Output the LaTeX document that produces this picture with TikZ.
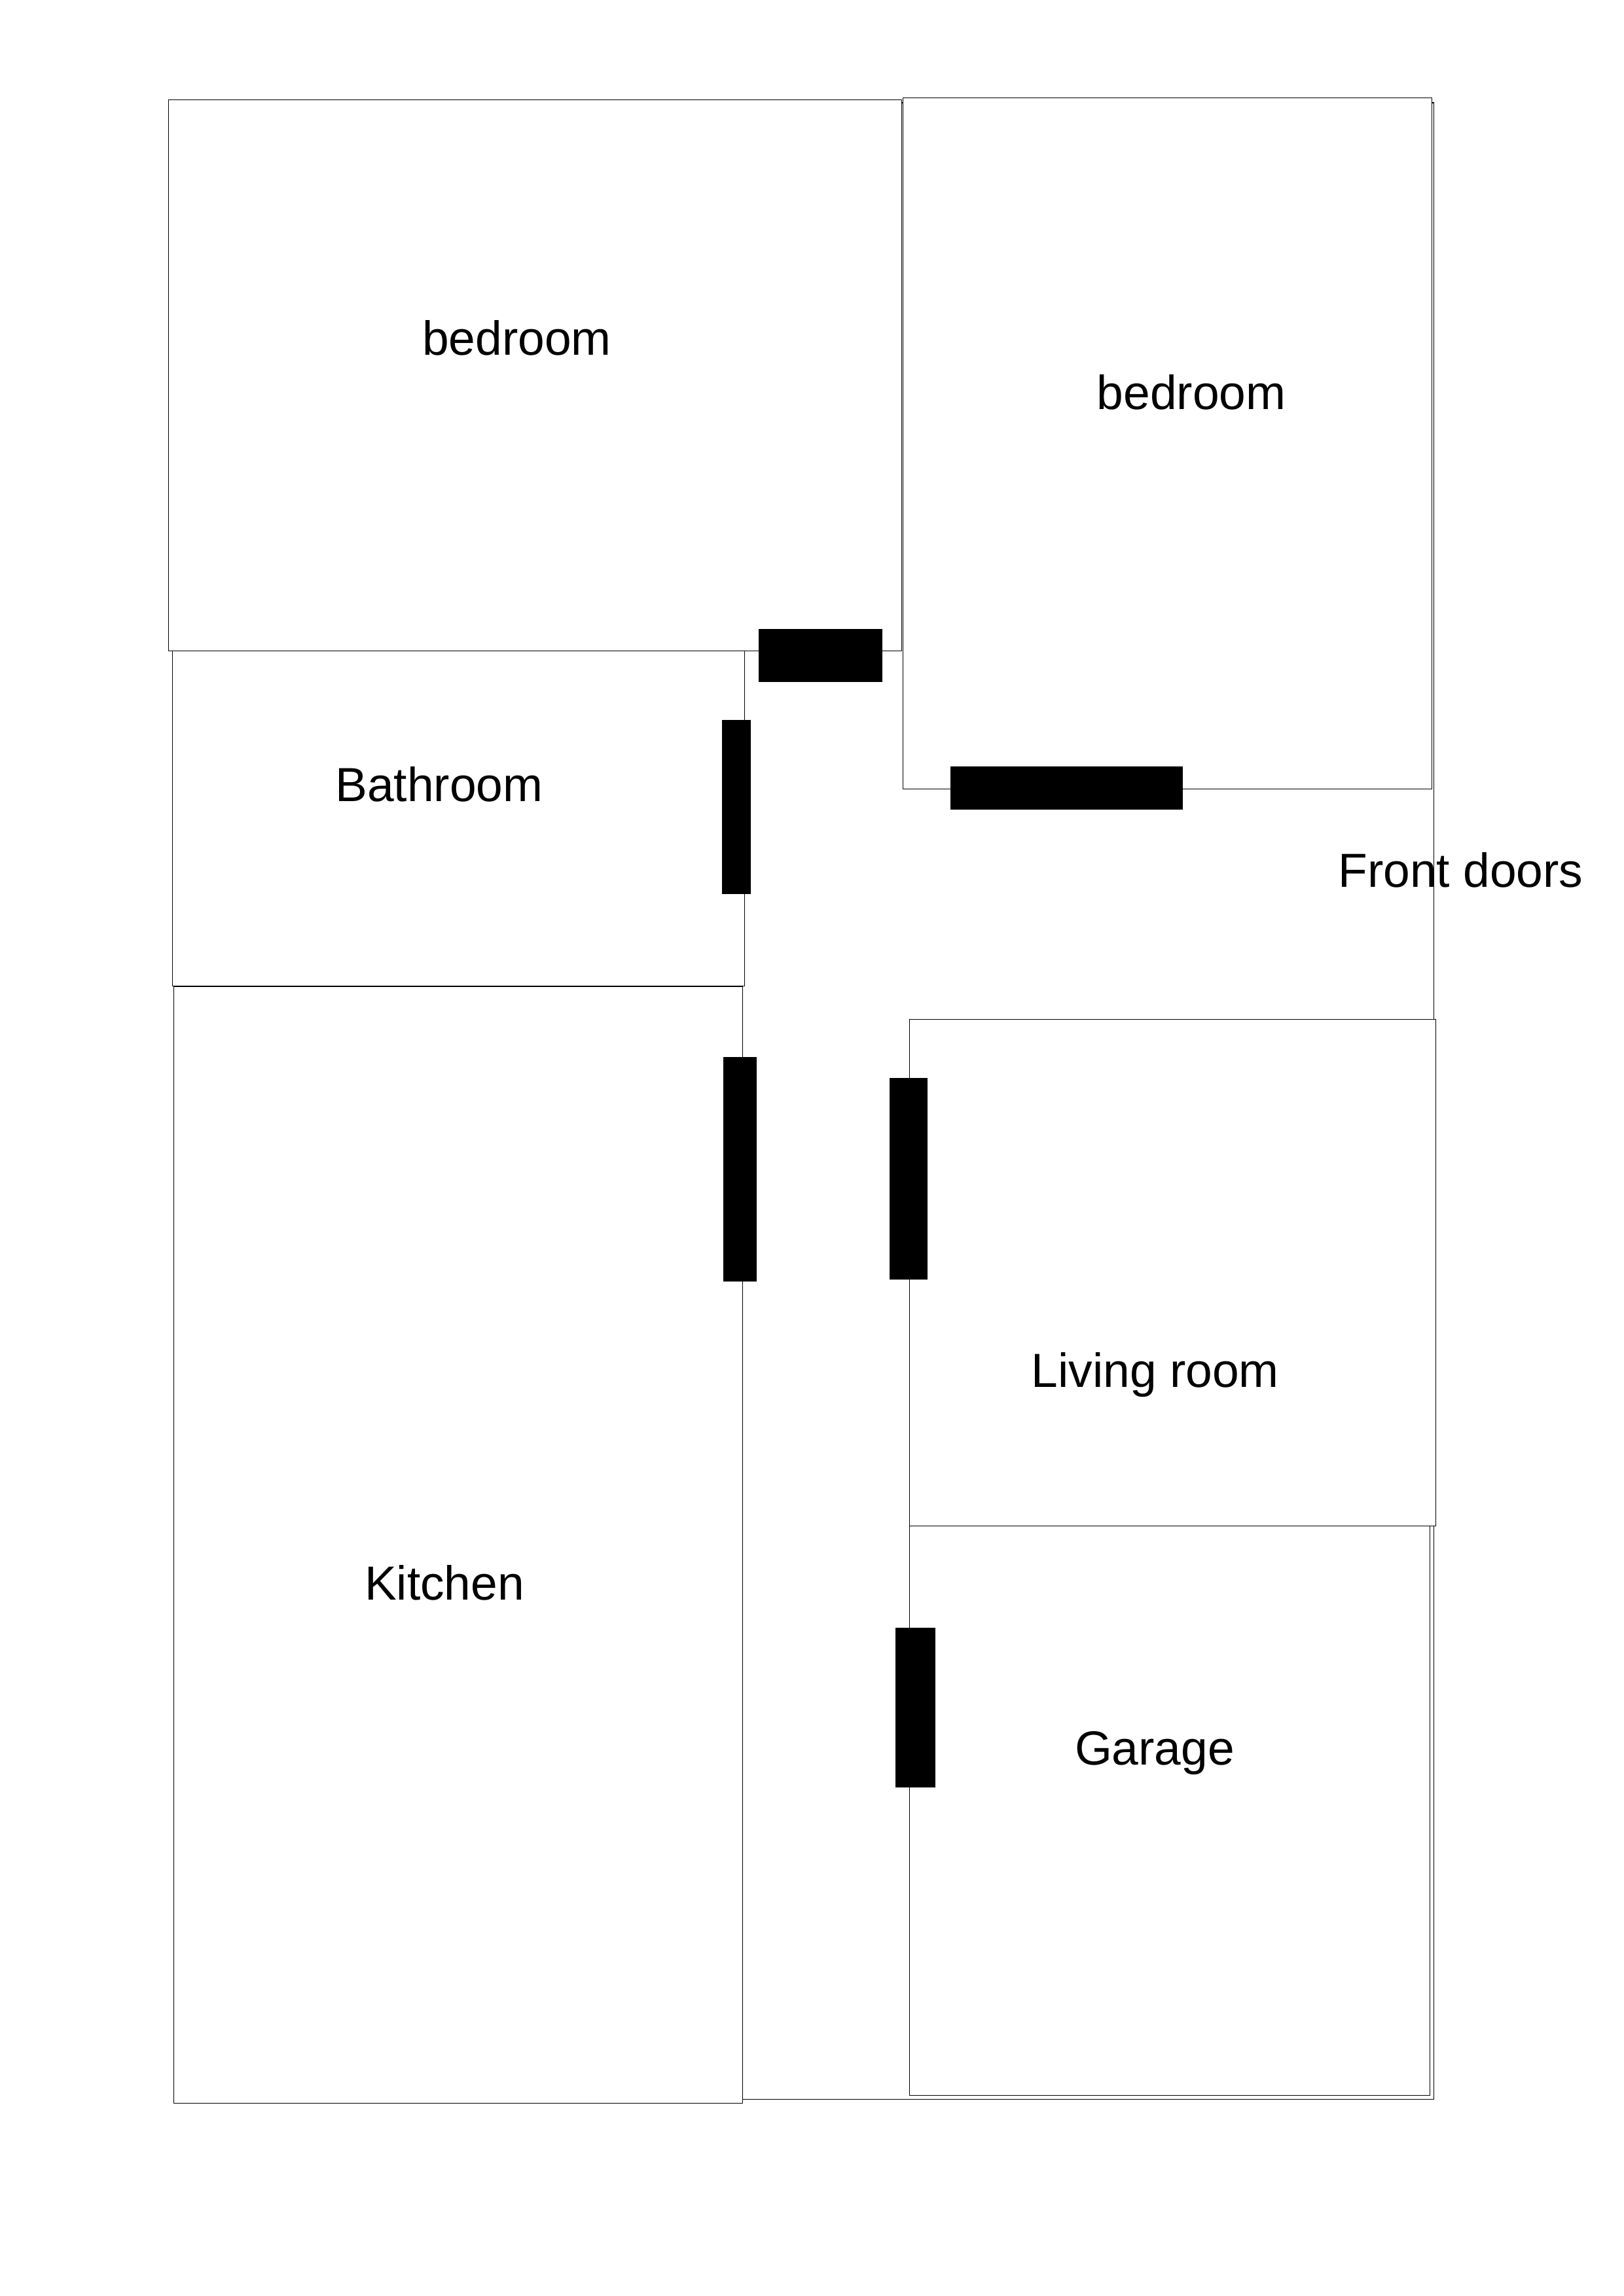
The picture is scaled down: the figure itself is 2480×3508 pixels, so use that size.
\documentclass[tikz,border=0pt]{standalone}
\usepackage{fontspec}
\setmainfont{Liberation Sans}
\tikzset{
  room/.style={draw=black,fill=white,line width=0.3pt},
  door/.style={fill=black},
  roomlabel/.style={anchor=base,inner sep=0pt,font=\fontsize{20.8pt}{25pt}\selectfont}
}
\begin{document}
\begin{tikzpicture}[x=0.01cm,y=-0.01cm]
\useasboundingbox (0,0) rectangle (2480,3508);
\draw[room] (1134.4,157) rectangle (2190.5,3207.3);
\draw[room] (257.5,152.5) rectangle (1377.5,994.3);
\draw[room] (1379.7,149.5) rectangle (2187.7,1205.3);
\draw[room] (263.3,994.3) rectangle (1137.3,1506.3);
\draw[room] (265.3,1507.3) rectangle (1134.4,3213.3);
\draw[room] (1389.3,2331.3) rectangle (2184.4,3201.3);
\draw[room] (1389.3,1557.3) rectangle (2193.5,2331.3);
\fill[door] (1159,961) rectangle (1348,1042);
\fill[door] (1452,1171) rectangle (1807,1237);
\fill[door] (1103,1100) rectangle (1147,1366);
\fill[door] (1105,1615) rectangle (1156,1958);
\fill[door] (1359,1647) rectangle (1417,1955);
\fill[door] (1368,2487) rectangle (1429,2731);
\node[roomlabel] (bed1) at (789.5,542.7) {bedroom};
\node[roomlabel] (bed2) at (1820,625) {bedroom};
\node[roomlabel] (bath) at (671,1224.5) {Bathroom};
\node[roomlabel] (front) at (2231.5,1355) {Front doors};
\node[roomlabel] (living) at (1765,2119) {Living room};
\node[roomlabel] (kitchen) at (679,2444) {Kitchen};
\node[roomlabel] (garage) at (1764,2696) {Garage};
\end{tikzpicture}
\end{document}
